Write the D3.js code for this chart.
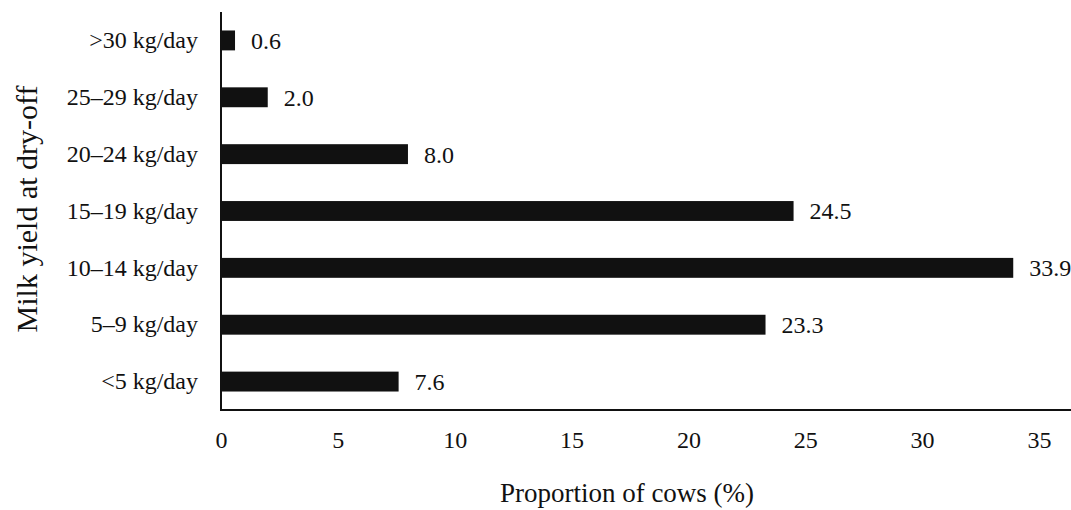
<!DOCTYPE html>
<html><head><meta charset="utf-8">
<script src="https://cdn.jsdelivr.net/npm/d3@7"></script>
<style>body{margin:0;background:#fff}svg{display:block}text{font-family:"Liberation Serif","Times New Roman",serif;fill:#111}</style>
</head><body><svg id="c" width="1071" height="510"></svg>
<script>
const categories = [">30 kg/day","25\u201329 kg/day","20\u201324 kg/day","15\u201319 kg/day","10\u201314 kg/day","5\u20139 kg/day","<5 kg/day"];
const values = [0.6, 2.0, 8.0, 24.5, 33.9, 23.3, 7.6];
const xTicks = [0,5,10,15,20,25,30,35];
const xTitle = "Proportion of cows (%)";
const yTitle = "Milk yield at dry-off";

const svg = d3.select("#c");
const mLeft = 221, mRight = 1071, mTop = 12, mBottom = 410;
const x = d3.scaleLinear().domain([0,35]).range([mLeft, mLeft + 35*23.37]);
const y = d3.scaleBand().domain(categories).range([mTop, mBottom]).paddingInner(0.65).paddingOuter(0.325);

svg.append("g").selectAll("rect").data(values).join("rect")
  .attr("x", x(0)).attr("y", (d,i)=>y(categories[i]))
  .attr("width", d=>x(d)-x(0)).attr("height", y.bandwidth())
  .attr("fill", "#111");

svg.append("g").selectAll("text").data(values).join("text")
  .attr("x", d=>x(d)+16).attr("y", (d,i)=>y(categories[i])+y.bandwidth()/2)
  .attr("dy","0.35em").attr("font-size",24).text(d=>d.toFixed(1));

const xAxis = svg.append("g").attr("transform",`translate(0,${mBottom})`)
  .call(d3.axisBottom(x).tickValues(xTicks).tickSize(0).tickPadding(21));
xAxis.select(".domain").remove();
xAxis.selectAll("text").attr("font-size",24).attr("fill","#111");
svg.append("line").attr("x1",mLeft).attr("x2",mRight).attr("y1",mBottom).attr("y2",mBottom).attr("stroke","#111").attr("stroke-width",2);

const yAxis = svg.append("g").attr("transform",`translate(${mLeft},0)`)
  .call(d3.axisLeft(y).tickSize(0).tickPadding(23));
yAxis.select(".domain").remove();
yAxis.selectAll("text").attr("font-size",24).attr("fill","#111");
svg.append("line").attr("x1",mLeft).attr("x2",mLeft).attr("y1",mTop).attr("y2",mBottom+1).attr("stroke","#111").attr("stroke-width",2);

svg.append("text").attr("x",627).attr("y",502).attr("text-anchor","middle").attr("font-size",27).text(xTitle);
svg.append("text").attr("transform","translate(37,209) rotate(-90)").attr("text-anchor","middle").attr("font-size",30).text(yTitle);
</script></body></html>
